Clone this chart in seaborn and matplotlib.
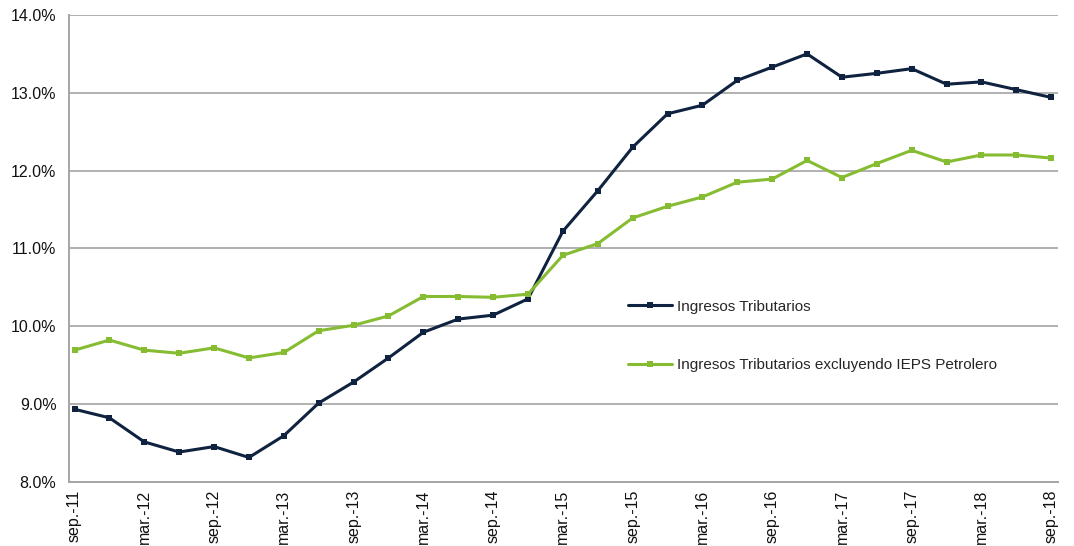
import numpy as np
import pandas as pd
import matplotlib
import matplotlib.pyplot as plt
from matplotlib.ticker import FuncFormatter, FixedLocator
import seaborn as sns

matplotlib.use('Agg')

# trimestres sep-11 .. sep-18
periodos = ['sep.-11', 'dic.-11', 'mar.-12', 'jun.-12', 'sep.-12', 'dic.-12',
            'mar.-13', 'jun.-13', 'sep.-13', 'dic.-13', 'mar.-14', 'jun.-14',
            'sep.-14', 'dic.-14', 'mar.-15', 'jun.-15', 'sep.-15', 'dic.-15',
            'mar.-16', 'jun.-16', 'sep.-16', 'dic.-16', 'mar.-17', 'jun.-17',
            'sep.-17', 'dic.-17', 'mar.-18', 'jun.-18', 'sep.-18']

ingresos_tributarios = [8.93, 8.82, 8.51, 8.38, 8.45, 8.31, 8.59, 9.01, 9.28, 9.59,
                        9.92, 10.09, 10.14, 10.35, 11.22, 11.74, 12.30, 12.73, 12.84,
                        13.16, 13.33, 13.50, 13.20, 13.25, 13.31, 13.11, 13.14, 13.04,
                        12.94]

sin_ieps = [9.69, 9.82, 9.69, 9.65, 9.72, 9.59, 9.66, 9.94, 10.01, 10.13,
            10.38, 10.38, 10.37, 10.41, 10.91, 11.06, 11.39, 11.54, 11.66,
            11.85, 11.89, 12.13, 11.91, 12.09, 12.26, 12.11, 12.20, 12.20,
            12.16]

serie_1 = 'Ingresos Tributarios'
serie_2 = 'Ingresos Tributarios excluyendo IEPS Petrolero'

n = len(periodos)
df = pd.DataFrame({
    'pos': list(range(n)) * 2,
    'valor': ingresos_tributarios + sin_ieps,
    'serie': [serie_1] * n + [serie_2] * n,
})

sns.set_style('white')
plt.rcParams['font.family'] = ['Liberation Sans', 'DejaVu Sans']

fig = plt.figure(figsize=(10.74, 5.46), dpi=100)
ax = fig.add_axes([0.0642, 0.118, 0.9208, 0.8545])

colores = {serie_1: '#0f2240', serie_2: '#86bc31'}
sns.lineplot(data=df, x='pos', y='valor', hue='serie', style='serie',
             palette=colores, markers={serie_1: 's', serie_2: 's'},
             dashes=False, linewidth=2.2, markersize=4.5, markeredgewidth=0,
             ax=ax, zorder=3)

# ejes
ax.set_ylim(8, 14)
ax.set_xlim(-0.16, n - 1 + 0.19)
ax.yaxis.set_major_locator(FixedLocator(np.arange(8, 14.01, 1)))
ax.yaxis.set_major_formatter(FuncFormatter(lambda v, p: f'{v:.1f}%'))
ax.grid(axis='y', color='#b0b0b0', linewidth=1.4)
ax.set_axisbelow(True)

for s in ['top', 'right']:
    ax.spines[s].set_visible(False)
for s in ['left', 'bottom']:
    ax.spines[s].set_color('#a6a6a6')
    ax.spines[s].set_linewidth(1.4)

etq_pos = list(range(0, n, 2))
ax.set_xticks(etq_pos)
ax.set_xticklabels([periodos[i] for i in etq_pos], rotation=90, va='top', ha='center')
ax.tick_params(axis='x', which='major', length=0, pad=6, labelsize=11.5, colors='#111111')
ax.set_xticks([i - 0.16 for i in etq_pos], minor=True)
ax.tick_params(axis='x', which='minor', length=5, width=1.4, color='#a6a6a6')
ax.tick_params(axis='y', length=5, width=1.4, color='#a6a6a6', labelsize=11.5,
               labelcolor='#111111', pad=4)

ax.set_xlabel('')
ax.set_ylabel('')

ax.legend(loc='upper left', bbox_to_anchor=(0.565, 0.39), frameon=False,
          fontsize=11, handlelength=2.9, handletextpad=0.35, labelspacing=2.9,
          borderpad=0, borderaxespad=0)

plt.savefig('out.png', dpi=100)
